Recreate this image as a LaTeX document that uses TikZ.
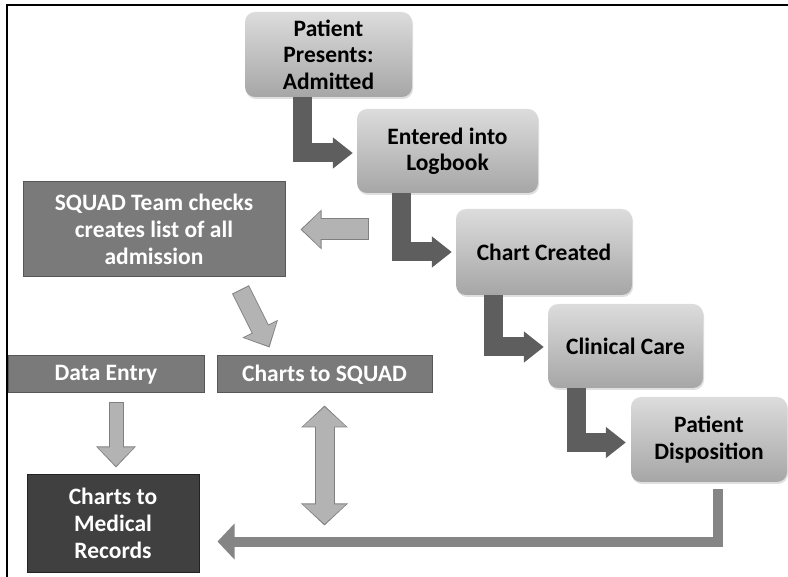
\documentclass[tikz,border=0pt]{standalone}
\usepackage{fontspec}
\setmainfont{Carlito}
\usepackage{tikz}
\usetikzlibrary{arrows.meta}
\usetikzlibrary{calc}
\usetikzlibrary{positioning}
\usetikzlibrary{shadows}
\definecolor{steptop}{HTML}{DCDCDC}
\definecolor{stepbot}{HTML}{A6A6A6}
\definecolor{elbowgray}{HTML}{5E5E5E}
\definecolor{boxfill}{HTML}{7A7A7A}
\definecolor{boxedge}{HTML}{575757}
\definecolor{recfill}{HTML}{404040}
\definecolor{recedge}{HTML}{222222}
\definecolor{lightfill}{HTML}{B3B3B3}
\definecolor{lightedge}{HTML}{808080}
\definecolor{longgray}{HTML}{858585}
\tikzstyle{every node}+=[inner sep=0pt]
\tikzstyle{stepbox} = [rectangle, rounded corners=10pt, top color=steptop, bottom color=stepbot, font=\fontsize{23.5}{26.5}\selectfont\bfseries, align=center, drop shadow={shadow xshift=1pt, shadow yshift=-2pt, opacity=0.25}]
\tikzstyle{squadbox} = [rectangle, draw=boxedge, fill=boxfill, line width=1pt, text=white, font=\fontsize{23.5}{27}\selectfont\bfseries, align=center]
\tikzstyle{recbox} = [squadbox, fill=recfill, draw=recedge]
\tikzstyle{elbow} = [draw=elbowgray, line width=19pt, line join=miter, -{Triangle[width=30pt,length=20pt]}]
\tikzstyle{longline} = [draw=longgray, line width=10pt, line join=miter, -{Triangle[width=35pt,length=17pt]}]
\tikzset{light/.style n args={4}{draw=lightedge, line width=#1, -{Triangle[width=#3,length=21pt]},
    postaction={draw=lightfill, line width=#2, -{Triangle[width=#4,length=18.5pt]}, shorten >=1.6pt, shorten <=1pt}}}
\tikzset{lightboth/.style n args={4}{draw=lightedge, line width=#1, {Triangle[width=#3,length=22pt]}-{Triangle[width=#3,length=22pt]},
    postaction={draw=lightfill, line width=#2, {Triangle[width=#4,length=19.5pt]}-{Triangle[width=#4,length=19.5pt]}, shorten >=1.6pt, shorten <=1.6pt}}}

\begin{document}
\begin{tikzpicture}[x=1pt, y=-1pt, node distance=96pt]
    \useasboundingbox (0,0) rectangle (788,577);
    \draw [line width=1.4pt] (788,5) -- (7,5) -- (7,577);
    % Place nodes
    \node [stepbox, minimum width=167pt, minimum height=85pt] (adm) at (328.5,54.5) {Patient\\Presents:\\Admitted};
    \node [stepbox, below of=adm, node distance=96.5pt, xshift=119pt, minimum width=181pt, minimum height=84pt] (log) {Entered into\\Logbook};
    \node [stepbox, below of=log, node distance=101pt, xshift=96.5pt, minimum width=176pt, minimum height=86pt] (chart) {Chart Created};
    \node [stepbox, below of=chart, node distance=94pt, xshift=81.5pt, minimum width=155pt, minimum height=84pt] (clin) {Clinical Care};
    \node [stepbox, below of=clin, node distance=93.5pt, xshift=83.5pt, minimum width=156pt, minimum height=85pt] (disp) {Patient\\Disposition};
    \node [squadbox, minimum width=262pt, minimum height=95pt] (squad) at (154,229.5) {SQUAD Team checks\\creates list of all\\admission};
    \node [squadbox, minimum width=196pt, minimum height=37pt] (entry) at (106,374.5) {Data Entry};
    \node [squadbox, right of=entry, node distance=218.5pt, minimum width=215pt, minimum height=37pt] (tosquad) {Charts to SQUAD};
    \node [recbox, minimum width=172pt, minimum height=97pt] (rec) at (113,523.5) {Charts to\\Medical\\Records};
    \coordinate (tap) at ($(squad.east)+(83,0)$);
    \coordinate (floor) at ($(tosquad.south)+(0,132)$);
    % Draw edges
    \draw [elbow] ($(adm.south -| log.west)+(-54,0)$) |- ($(log.west)+(-4,2)$);
    \draw [elbow] ($(log.south -| chart.west)+(-54,0)$) |- ($(chart.west)+(-4,0)$);
    \draw [elbow] ($(chart.south -| clin.west)+(-54,0)$) |- ($(clin.west)+(-4,1)$);
    \draw [elbow] ($(clin.south -| disp.west)+(-54,0)$) |- ($(disp.west)+(-5,3)$);
    \draw [longline] ($(disp.south)+(9,7)$) |- ($(rec.east)+(18,18)$);
    \draw [light={22pt}{20pt}{38.5pt}{35pt}] (tap) -- ($(squad.east)+(15,0)$);
    \draw [light={19pt}{17pt}{38.5pt}{35pt}] ($(squad.south east)+(-45,12)$) -- ($(tosquad.north west)+(53,-8)$);
    \draw [light={15pt}{13pt}{38.5pt}{35pt}] ($(entry.south)+(10,9)$) -- ($(entry.south |- rec.north)+(10,-7)$);
    \draw [lightboth={20pt}{18pt}{45.5pt}{42pt}] ($(tosquad.south)+(0,12)$) -- (floor);
\end{tikzpicture}
\end{document}
